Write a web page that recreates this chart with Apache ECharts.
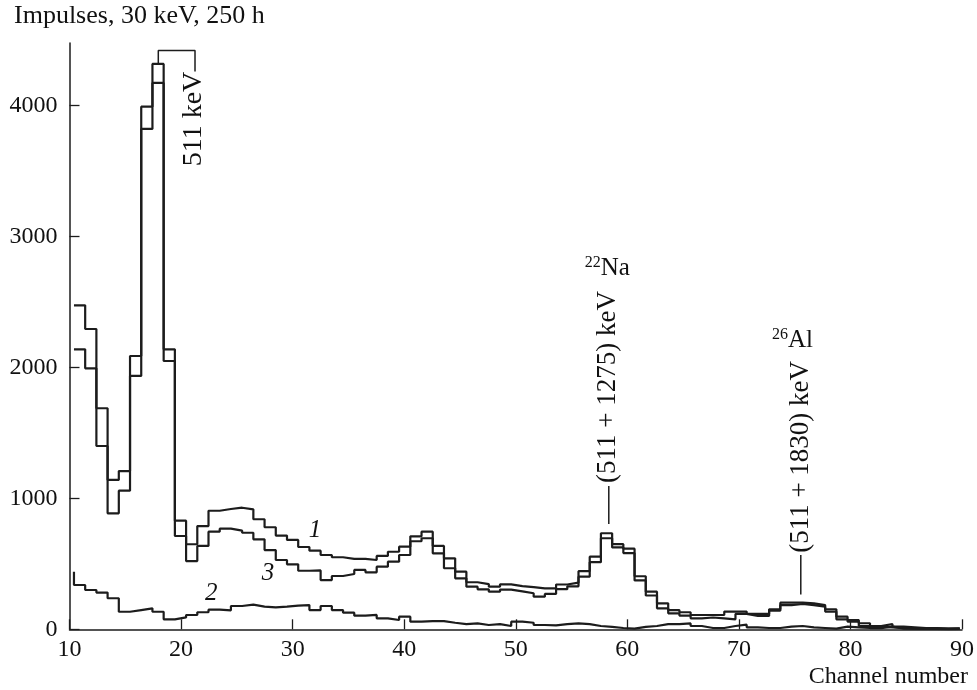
<!DOCTYPE html>
<html><head><meta charset="utf-8">
<script src="https://cdn.jsdelivr.net/npm/echarts@6/dist/echarts.min.js"></script>
<style>html,body{margin:0;padding:0;background:#fff}#c{width:977px;height:690px}</style>
</head><body><div id="c"></div>
<script>
// ---- data ----
const binStart = 10.4;   // channel at left edge of first bin
const binWidth = 1.005;  // channel width of one bin
const xTicks = [10, 20, 30, 40, 50, 60, 70, 80, 90];
const yTicks = [0, 1000, 2000, 3000, 4000];
const curve1 = [2473, 2292, 1687, 1140, 1208, 2086, 3989, 4315, 2137, 829, 649, 788, 905, 918, 928, 916, 840, 779, 715, 682,
  628, 600, 567, 550, 537, 537, 529, 560, 592, 631, 710, 745, 636, 542, 440, 359, 345, 325, 343, 330,
  322, 312, 312, 342, 356, 444, 554, 733, 650, 615, 405, 287, 198, 147, 130, 109, 109, 109, 135, 135,
  117, 117, 153, 203, 203, 198, 185, 153, 96, 71, 46, 25, 40, 20, 15, 10, 10, 5, 8];
const curve3 = [2137, 1992, 1399, 885, 1058, 1934, 3819, 4170, 2048, 712, 521, 636, 745, 768, 753, 737, 687, 605, 529, 496,
  447, 449, 376, 407, 422, 453, 435, 478, 516, 567, 672, 695, 580, 466, 389, 325, 305, 287, 303, 290,
  275, 249, 270, 306, 328, 402, 512, 695, 625, 582, 373, 258, 160, 122, 105, 84, 90, 84, 76, 117,
  102, 102, 142, 185, 193, 185, 173, 135, 76, 58, 25, 8, 20, 5, 5, 3, 3, 2, 3];
const curve2Lead = 440;
const curve2 = [338, 300, 280, 237, 134, 147, 160, 134, 76, 91, 109, 130, 150, 145, 178, 188, 173, 168, 173, 180,
  185, 147, 178, 147, 127, 104, 110, 84, 71, 96, 58, 62, 63, 50, 40, 45, 33, 40, 25, 58,
  50, 33, 30, 40, 45, 40, 25, 18, 10, 5, 18, 25, 40, 40, 45, 25, 10, 10, 25, 35,
  15, 10, 10, 20, 25, 15, 10, 5, 20, 15, 10, 20, 15, 10, 5, 5, 5, 5, 5];
// annotation anchors (data coords)
const bracket511 = [[17.96, 4315], [17.96, 4417], [21.25, 4417], [21.25, 4257]];
const naLine = [[58.34, 804], [58.34, 1094]];
const alLine = [[75.55, 266], [75.55, 567]];

const FONT = '"Liberation Serif", "Times New Roman", serif';
const INK = '#1c1c1c';

function stepData(vals, lead) {
  const d = [];
  if (lead != null) d.push([binStart, lead]);
  vals.forEach((v, i) => d.push([binStart + i * binWidth, v]));
  d.push([binStart + vals.length * binWidth, vals[vals.length - 1]]);
  return d;
}
const histStyle = {color: INK, width: 2.2};
const annStyle = {color: INK, width: 1.5};

const chart = echarts.init(document.getElementById('c'));
chart.setOption({
  animation: false,
  grid: {left: 69.5, right: 15, top: 43, bottom: 60.7, containLabel: false},
  xAxis: {
    type: 'value', min: 10, max: 90, interval: 10,
    axisLine: {lineStyle: {color: INK, width: 1.5}},
    axisTick: {inside: true, length: 10, lineStyle: {color: INK, width: 1.3}},
    axisLabel: {fontFamily: FONT, fontSize: 24, color: '#111', margin: 8, formatter: v => String(v)},
    splitLine: {show: false}
  },
  yAxis: {
    type: 'value', min: 0, max: 4475,
    axisLine: {show: true, lineStyle: {color: INK, width: 1.5}},
    axisTick: {inside: true, length: 10, customValues: yTicks, lineStyle: {color: INK, width: 1.3}},
    axisLabel: {fontFamily: FONT, fontSize: 24, color: '#111', margin: 12, customValues: yTicks, formatter: v => String(v)},
    splitLine: {show: false}
  },
  series: [
    {name: '1', type: 'line', step: 'end', showSymbol: false, data: stepData(curve1), lineStyle: histStyle},
    {name: '3', type: 'line', step: 'end', showSymbol: false, data: stepData(curve3), lineStyle: histStyle},
    {name: '2', type: 'line', step: 'end', showSymbol: false, data: stepData(curve2, curve2Lead), lineStyle: histStyle},
    {type: 'line', showSymbol: false, data: bracket511, lineStyle: annStyle},
    {type: 'line', showSymbol: false, data: naLine, lineStyle: annStyle},
    {type: 'line', showSymbol: false, data: alLine, lineStyle: annStyle}
  ]
});

function px(c, v) { return chart.convertToPixel({gridIndex: 0}, [c, v]); }
function txt(pt, text, font, rot) {
  return {
    type: 'text', x: pt[0], y: pt[1], rotation: rot || 0,
    style: {text: text, font: font, fill: '#111', textAlign: 'center', textVerticalAlign: 'middle'}
  };
}
const p511 = px(21.1, 3895);
const pNaV = px(58.3, 1850);
const pAlV = px(75.6, 1316);
const pNa = px(58.2, 2756);
const pAl = px(74.8, 2208);
const pL1 = px(32.0, 758);
const pL3 = px(27.8, 430);
const pL2 = px(22.7, 277);
const supRich = {
  s: {fontFamily: FONT, fontSize: 16, fill: '#111', verticalAlign: 'top', lineHeight: 26},
  n: {fontFamily: FONT, fontSize: 25, fill: '#111', lineHeight: 26}
};
chart.setOption({
  graphic: [
    txt(p511, '511 keV', '28px ' + FONT, Math.PI / 2),
    txt(pNaV, '(511 + 1275) keV', '27px ' + FONT, Math.PI / 2),
    txt(pAlV, '(511 + 1830) keV', '27px ' + FONT, Math.PI / 2),
    {type: 'text', x: pNa[0], y: pNa[1], style: {text: '{s|22}{n|Na}', textAlign: 'center', textVerticalAlign: 'middle', rich: supRich}},
    {type: 'text', x: pAl[0], y: pAl[1], style: {text: '{s|26}{n|Al}', textAlign: 'center', textVerticalAlign: 'middle', rich: supRich}},
    txt(pL1, '1', 'italic 25px ' + FONT),
    txt(pL3, '3', 'italic 25px ' + FONT),
    txt(pL2, '2', 'italic 25px ' + FONT),
    {type: 'text', left: 14, top: 3, style: {text: 'Impulses, 30 keV, 250 h', font: '26px ' + FONT, fill: '#111'}},
    {type: 'text', right: 9, top: 665, style: {text: 'Channel number', font: '24px ' + FONT, fill: '#111'}}
  ]
});
</script>
</body></html>
